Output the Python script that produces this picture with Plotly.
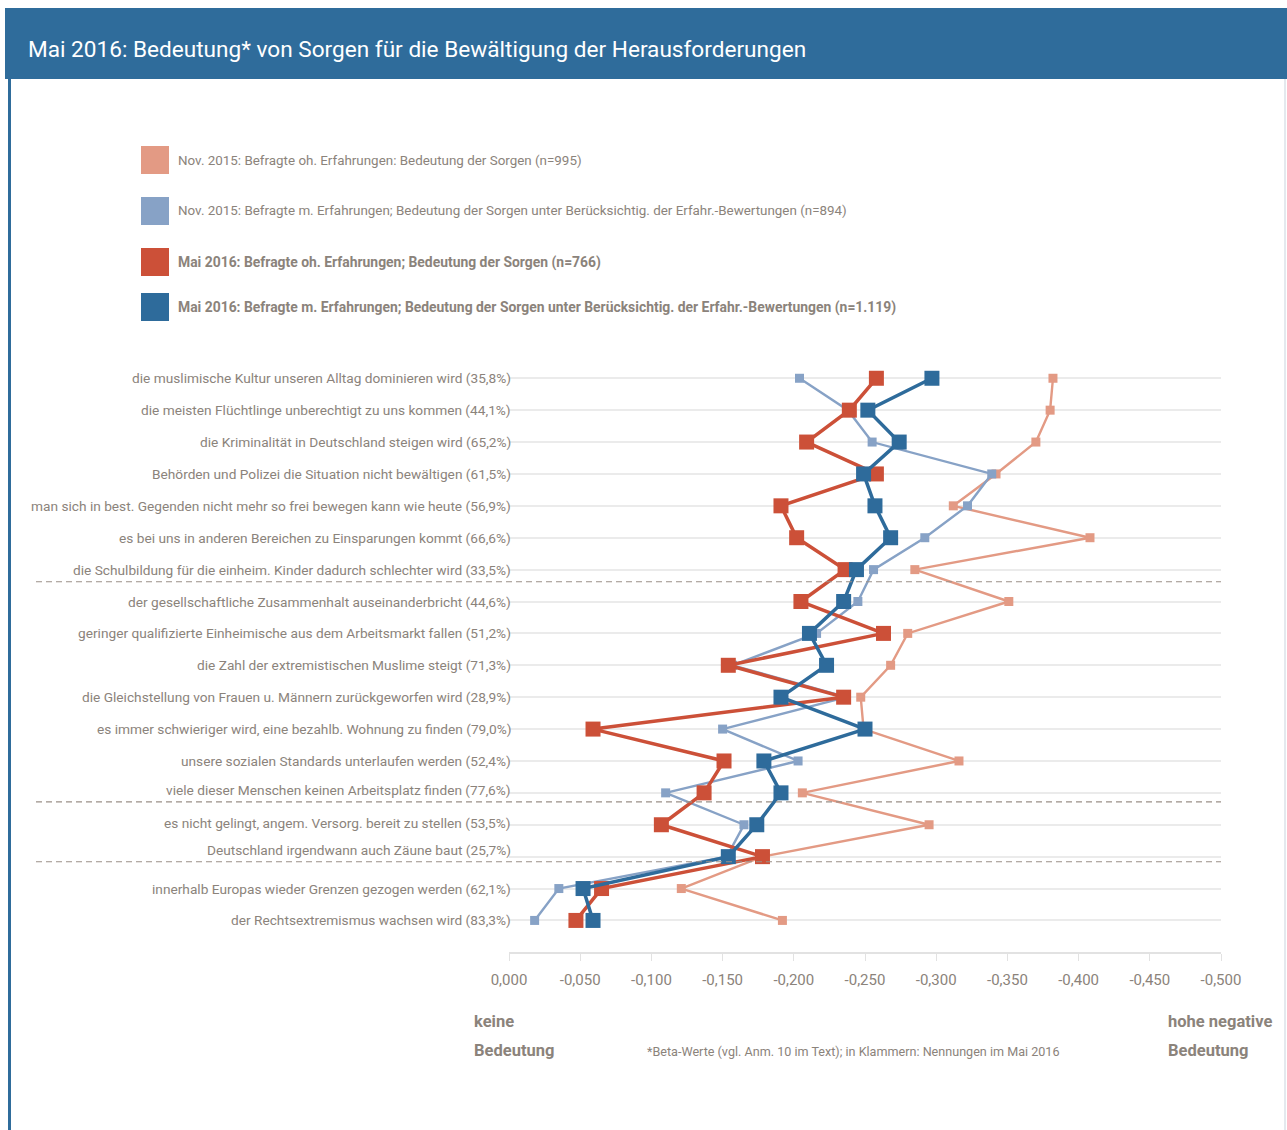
import plotly.graph_objects as go

categories = [
    "die muslimische Kultur unseren Alltag dominieren wird (35,8%)",
    "die meisten Flüchtlinge unberechtigt zu uns kommen (44,1%)",
    "die Kriminalität in Deutschland steigen wird (65,2%)",
    "Behörden und Polizei die Situation nicht bewältigen (61,5%)",
    "man sich in best. Gegenden nicht mehr so frei bewegen kann wie heute (56,9%)",
    "es bei uns in anderen Bereichen zu Einsparungen kommt (66,6%)",
    "die Schulbildung für die einheim. Kinder dadurch schlechter wird (33,5%)",
    "der gesellschaftliche Zusammenhalt auseinanderbricht (44,6%)",
    "geringer qualifizierte Einheimische aus dem Arbeitsmarkt fallen (51,2%)",
    "die Zahl der extremistischen Muslime steigt (71,3%)",
    "die Gleichstellung von Frauen u. Männern zurückgeworfen wird (28,9%)",
    "es immer schwieriger wird, eine bezahlb. Wohnung zu finden (79,0%)",
    "unsere sozialen Standards unterlaufen werden (52,4%)",
    "viele dieser Menschen keinen Arbeitsplatz finden (77,6%)",
    "es nicht gelingt, angem. Versorg. bereit zu stellen (53,5%)",
    "Deutschland irgendwann auch Zäune baut (25,7%)",
    "innerhalb Europas wieder Grenzen gezogen werden (62,1%)",
    "der Rechtsextremismus wachsen wird (83,3%)",
]

nov15_ohne = [-0.382, -0.380, -0.370, -0.342, -0.312, -0.408, -0.285, -0.351, -0.280,
              -0.268, -0.247, -0.249, -0.316, -0.206, -0.295, -0.178, -0.121, -0.192]
nov15_mit = [-0.204, -0.238, -0.255, -0.339, -0.322, -0.292, -0.256, -0.245, -0.216,
             -0.157, -0.237, -0.150, -0.203, -0.110, -0.165, -0.153, -0.035, -0.018]
mai16_ohne = [-0.258, -0.239, -0.209, -0.258, -0.191, -0.202, -0.236, -0.205, -0.263,
              -0.154, -0.235, -0.059, -0.151, -0.137, -0.107, -0.178, -0.065, -0.047]
mai16_mit = [-0.297, -0.252, -0.274, -0.249, -0.257, -0.268, -0.244, -0.235, -0.211,
             -0.223, -0.191, -0.250, -0.179, -0.191, -0.174, -0.154, -0.052, -0.059]

series_names = [
    "Nov. 2015: Befragte oh. Erfahrungen: Bedeutung der Sorgen (n=995)",
    "Nov. 2015: Befragte m. Erfahrungen; Bedeutung der Sorgen unter Berücksichtig. der Erfahr.-Bewertungen (n=894)",
    "Mai 2016: Befragte oh. Erfahrungen; Bedeutung der Sorgen (n=766)",
    "Mai 2016: Befragte m. Erfahrungen; Bedeutung der Sorgen unter Berücksichtig. der Erfahr.-Bewertungen (n=1.119)",
]

x_tickvals = [0.0, -0.05, -0.1, -0.15, -0.2, -0.25, -0.3, -0.35, -0.4, -0.45, -0.5]
x_ticktext = ["0,000", "-0,050", "-0,100", "-0,150", "-0,200", "-0,250", "-0,300",
              "-0,350", "-0,400", "-0,450", "-0,500"]

title_text = "Mai 2016: Bedeutung* von Sorgen für die Bewältigung der Herausforderungen"
footnote = "*Beta-Werte (vgl. Anm. 10 im Text); in Klammern: Nennungen im Mai 2016"
left_label = ["keine", "Bedeutung"]
right_label = ["hohe negative", "Bedeutung"]

colors = ["#e39a84", "#87a2c6", "#cc5038", "#2e6b9b"]
FONT = "Roboto, Liberation Sans Narrow, sans-serif"
TXT = "#8b837b"
BAR = "#2f6c9b"

W, H = 1287, 1130
L, R, T, B = 509, 1221, 362, 952


def xp(px):
    return (px - L) / (R - L)


def yp(py):
    return (B - py) / (B - T)


fig = go.Figure()
all_series = [nov15_ohne, nov15_mit, mai16_ohne, mai16_mit]
styles = [(2.4, 9), (2.4, 9), (3.5, 15), (3.5, 15)]
for vals, name, col, (lw, ms) in zip(all_series, series_names, colors, styles):
    fig.add_trace(go.Scatter(
        x=vals, y=list(range(len(categories))), mode="lines+markers", name=name,
        line=dict(color=col, width=lw),
        marker=dict(symbol="square", size=ms, color=col, line=dict(width=0)),
        showlegend=False, hoverinfo="x+name",
    ))

shapes = []
# title bar
shapes.append(dict(type="rect", xref="paper", yref="paper", x0=xp(5), x1=xp(1290),
                   y0=yp(79), y1=yp(8), fillcolor=BAR, line=dict(width=0), layer="below"))
# frame borders
shapes.append(dict(type="line", xref="paper", yref="paper", x0=xp(9.5), x1=xp(9.5),
                   y0=yp(79), y1=yp(1135), line=dict(color=BAR, width=3)))
shapes.append(dict(type="line", xref="paper", yref="paper", x0=xp(1285), x1=xp(1285),
                   y0=yp(79), y1=yp(1135), line=dict(color="#c9d3dd", width=1)))
# dashed separators
for yv in [6.38, 13.28, 15.16]:
    shapes.append(dict(type="line", xref="paper", yref="y", x0=xp(36), x1=1.0,
                       y0=yv, y1=yv, line=dict(color="#9a9088", width=1.2, dash="6px,4px")))
# legend squares
leg_y = [160, 211, 262, 307]
for ly, col in zip(leg_y, colors):
    shapes.append(dict(type="rect", xref="paper", yref="paper", x0=xp(141), x1=xp(169),
                       y0=yp(ly + 14), y1=yp(ly - 14), fillcolor=col, line=dict(width=0)))

annotations = []
annotations.append(dict(text=title_text, xref="paper", yref="paper", x=xp(26), y=yp(50),
                        xanchor="left", yanchor="middle", showarrow=False,
                        font=dict(family=FONT, size=22.6, color="white")))
for i, (ly, name) in enumerate(zip(leg_y, series_names)):
    t = name if i < 2 else "<b>" + name + "</b>"
    annotations.append(dict(text=t, xref="paper", yref="paper", x=xp(176), y=yp(ly),
                            xanchor="left", yanchor="middle", showarrow=False,
                            font=dict(family=FONT, size=13.4 if i < 2 else 13.9, color=TXT)))
# category labels (small vertical nudges near the separators)
label_shift = {13: 3, 14: 2, 15: 7}
for i, cat in enumerate(categories):
    annotations.append(dict(text=cat, xref="paper", yref="y", x=xp(513), y=i,
                            xanchor="right", yanchor="middle", showarrow=False,
                            yshift=label_shift.get(i, 0),
                            font=dict(family=FONT, size=13.7, color=TXT)))
for txt, yy in zip(left_label, [1021, 1050]):
    annotations.append(dict(text="<b>" + txt + "</b>", xref="paper", yref="paper",
                            x=xp(472), y=yp(yy), xanchor="left", yanchor="middle",
                            showarrow=False, font=dict(family=FONT, size=16.5, color=TXT)))
for txt, yy in zip(right_label, [1021, 1050]):
    annotations.append(dict(text="<b>" + txt + "</b>", xref="paper", yref="paper",
                            x=xp(1166), y=yp(yy), xanchor="left", yanchor="middle",
                            showarrow=False, font=dict(family=FONT, size=16.5, color=TXT)))
annotations.append(dict(text=footnote, xref="paper", yref="paper", x=xp(645), y=yp(1051),
                        xanchor="left", yanchor="middle", showarrow=False,
                        font=dict(family=FONT, size=12.6, color=TXT)))

fig.update_layout(
    width=W, height=H,
    margin=dict(l=L, r=W - R, t=T, b=H - B, pad=0, autoexpand=False),
    paper_bgcolor="white", plot_bgcolor="white",
    font=dict(family=FONT, color=TXT),
    shapes=shapes, annotations=annotations,
    xaxis=dict(range=[0.0, -0.5], tickvals=x_tickvals, ticktext=x_ticktext,
               showgrid=False, zeroline=False, showline=True, linecolor="#e2e2e2",
               linewidth=1.5, ticks="outside", ticklen=7, tickcolor="#e2e2e2",
               ticklabelstandoff=6,
               tickfont=dict(family=FONT, size=15, color=TXT), fixedrange=True,
               automargin=False),
    yaxis=dict(range=[17.99, -0.51], tickvals=list(range(len(categories))),
               showticklabels=False, showgrid=True, gridcolor="#ebebeb", gridwidth=1.5,
               zeroline=False, showline=False, ticks="", fixedrange=True,
               automargin=False),
    showlegend=False,
)

fig.write_html("out.html", config={"displayModeBar": False},
               post_script="document.body.style.margin='0';document.body.style.overflow='hidden';")
